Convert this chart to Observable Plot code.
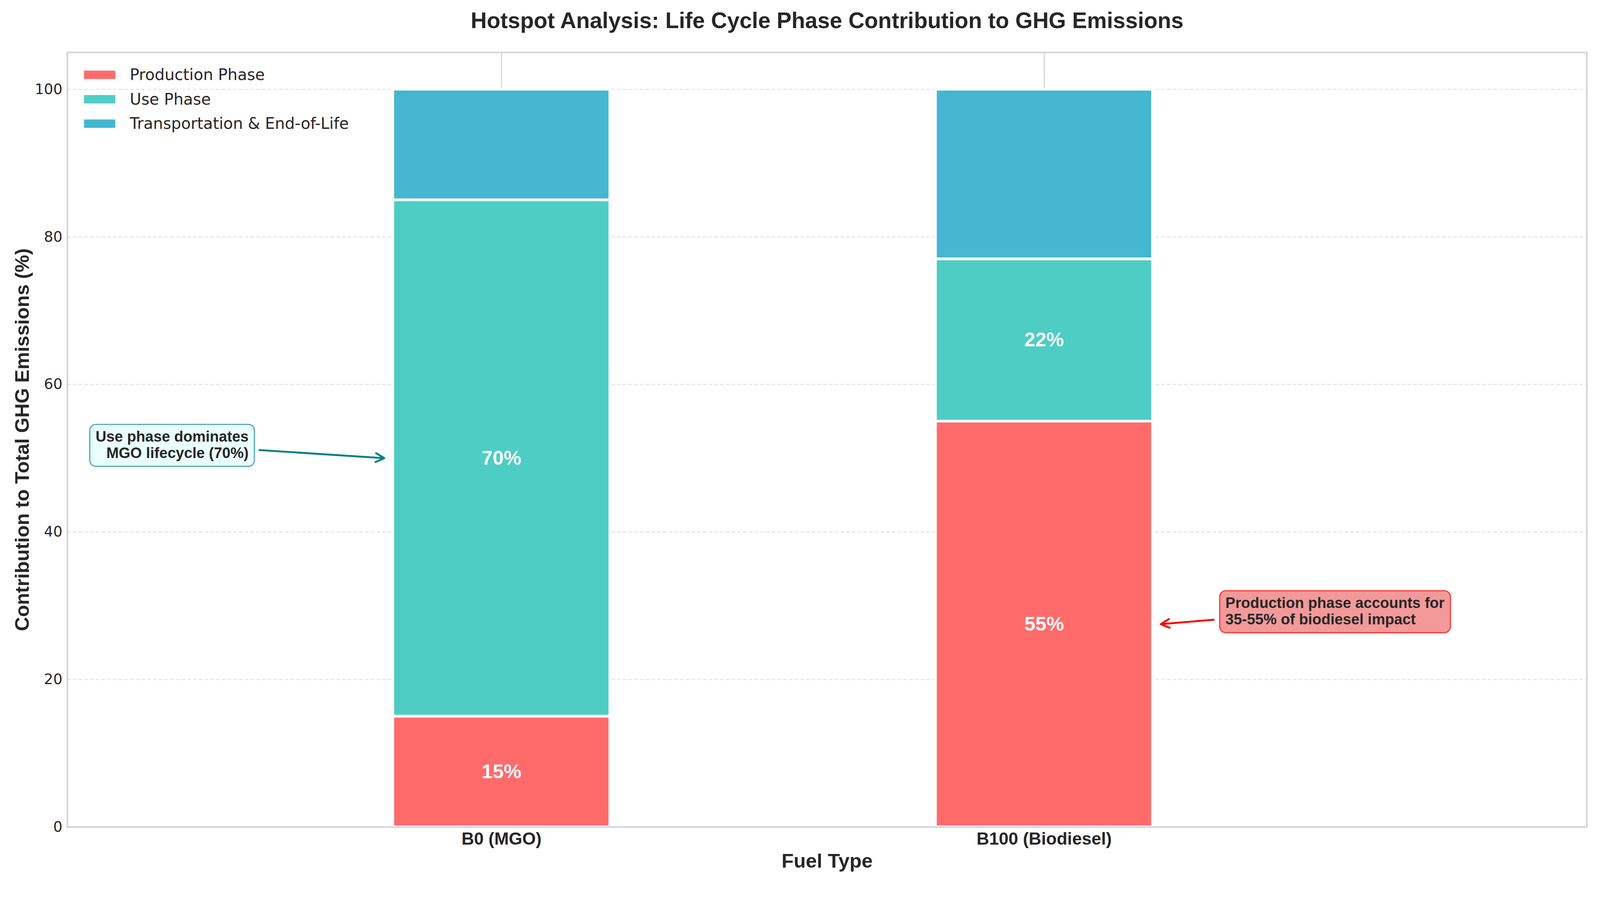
<!DOCTYPE html>
<html>
<head>
<meta charset="utf-8">
<script src="https://cdn.jsdelivr.net/npm/d3@7"></script>
<script src="https://cdn.jsdelivr.net/npm/@observablehq/plot@0.6"></script>
<style>
html, body { margin: 0; padding: 0; background: #fff; overflow: hidden; }
#wrap { position: relative; width: 4190px; height: 2310px; overflow: hidden; transform-origin: 0 0; }
#wrap svg { display: block; }
.legend-row { position: absolute; left: 220px; height: 22px; display: flex; align-items: center;
  font-family: "DejaVu Sans"; font-size: 41px; line-height: 22px; color: #262626; white-space: nowrap; }
.sw { width: 82px; height: 22px; margin-right: 38px; flex: none; }
</style>
</head>
<body>
<div id="wrap"></div>
<script>
// ---- data ----
const fuelTypes = ["B0 (MGO)", "B100 (Biodiesel)"];
const phases = ["Production Phase", "Use Phase", "Transportation & End-of-Life"];
const production = [15, 55];
const usePhase = [70, 22];
const transport = [15, 23];
const phaseColors = ["#FF6B6B", "#4ECDC4", "#45B7D1"];
const yTicks = [0, 20, 40, 60, 80, 100];
const chartTitle = "Hotspot Analysis: Life Cycle Phase Contribution to GHG Emissions";
const xLabel = "Fuel Type";
const yLabel = "Contribution to Total GHG Emissions (%)";
const labeledPhases = ["Production Phase", "Use Phase"];

const seriesValues = [production, usePhase, transport];
const rows = [];
fuelTypes.forEach((f, i) => {
  let acc = 0;
  seriesValues.forEach((vals, j) => {
    const v = vals[i];
    rows.push({fuel: f, idx: i, phase: phases[j], value: v, y1: acc, y2: acc + v});
    acc += v;
  });
});
const seg = (fi, ph) => rows.find(d => d.idx === fi && d.phase === ph);
const mid = d => (d.y1 + d.y2) / 2;

// annotations (text anchor & arrow start in data units; targets from data)
const annotations = [
  {lines: ["Use phase dominates", "MGO lifecycle (70%)"], x: -0.466, y: 51.85, anchor: "end",
   x1: -0.446, y1: 51.1, x2: seg(0, "Use Phase").idx - 0.216, y2: mid(seg(0, "Use Phase")),
   color: "#008080", fill: "#eaffff", edge: "#4da6a6"},
  {lines: ["Production phase accounts for", "35-55% of biodiesel impact"], x: 1.334, y: 29.3, anchor: "start",
   x1: 1.3125, y1: 28.1, x2: seg(1, "Production Phase").idx + 0.215, y2: mid(seg(1, "Production Phase")),
   color: "#ff0000", fill: "#f39999", edge: "#ff3333"}
];

const bold = "Liberation Sans";
const ink = "#262626";

const marks = [
  Plot.gridY({ticks: yTicks, stroke: "#e4e4e4", strokeOpacity: 1, strokeWidth: 2.9, strokeDasharray: "9,6"}),
  Plot.gridX({ticks: fuelTypes.map((_, i) => i), stroke: "#d4d4d4", strokeOpacity: 1, strokeWidth: 2.9}),
  Plot.rect(rows, {x1: d => d.idx - 0.2, x2: d => d.idx + 0.2, y1: "y1", y2: "y2", fill: "phase",
    stroke: "white", strokeWidth: 7}),
  Plot.text(rows.filter(d => labeledPhases.includes(d.phase)), {x: "idx", y: mid, text: d => `${d.value}%`,
    fill: "white", fontSize: 52, fontWeight: "bold", fontFamily: bold}),
  Plot.frame({stroke: "#d6d6d6", strokeWidth: 4.5}),
  Plot.axisY({ticks: yTicks, tickSize: 0, tickPadding: 13, fontSize: 38, label: null, fill: ink, fontFamily: "DejaVu Sans"}),
  Plot.axisX({ticks: fuelTypes.map((_, i) => i), tickFormat: i => fuelTypes[i], tickSize: 0, tickPadding: 14,
    fontSize: 45.5, fontWeight: "bold", fontFamily: bold, label: null, fill: ink}),
  Plot.text([chartTitle], {frameAnchor: "top", dy: -64, lineAnchor: "bottom", text: d => d,
    fontSize: 58.3, fontWeight: "bold", fontFamily: bold, fill: ink}),
  Plot.text([xLabel], {frameAnchor: "bottom", dy: 106, lineAnchor: "bottom", text: d => d,
    fontSize: 52, fontWeight: "bold", fontFamily: bold, fill: ink}),
  Plot.text([yLabel], {frameAnchor: "left", dx: -101, rotate: -90, lineAnchor: "bottom", textAnchor: "middle",
    text: d => d, fontSize: 51.5, fontWeight: "bold", fontFamily: bold, fill: ink})
];
annotations.forEach(a => {
  marks.push(Plot.arrow([a], {x1: "x1", y1: "y1", x2: "x2", y2: "y2", stroke: a.color, strokeWidth: 5,
    headLength: 7.5, headAngle: 55}));
  marks.push(Plot.text([a], {x: "x", y: "y", text: d => d.lines.join("\n"), textAnchor: a.anchor,
    lineAnchor: "middle", lineHeight: 1.1, fontSize: 39, fontWeight: "bold", fontFamily: bold, fill: ink}));
});

const chart = Plot.plot({
  width: 4190, height: 2310,
  marginLeft: 176, marginRight: 35, marginTop: 137, marginBottom: 144,
  x: {type: "linear", domain: [-0.8, 2.0]},
  y: {domain: [0, 105]},
  color: {domain: phases, range: phaseColors},
  style: {fontFamily: "DejaVu Sans", color: ink, background: "#fff", maxWidth: "none"},
  marks
});

const wrap = document.getElementById("wrap");
wrap.appendChild(chart);

// rounded boxes behind annotation text (like matplotlib bbox)
d3.select(chart).selectAll("text").each(function () {
  const t = this.textContent;
  const a = annotations.find(a => a.lines.join("") === t);
  if (!a) return;
  const b = this.getBBox();
  const r = document.createElementNS("http://www.w3.org/2000/svg", "rect");
  const tr = this.getAttribute("transform");
  if (tr) r.setAttribute("transform", tr);
  r.setAttribute("x", b.x - 15);
  r.setAttribute("y", b.y - 10);
  r.setAttribute("width", b.width + 30);
  r.setAttribute("height", b.height + 24);
  r.setAttribute("rx", 16);
  r.setAttribute("ry", 16);
  r.setAttribute("fill", a.fill);
  r.setAttribute("stroke", a.edge);
  r.setAttribute("stroke-width", 3);
  this.parentNode.insertBefore(r, this);
});

// legend (inside plot, top-left)
phases.forEach((p, i) => {
  const row = document.createElement("div");
  row.className = "legend-row";
  row.style.top = (185 + 64 * i) + "px";
  const sw = document.createElement("span");
  sw.className = "sw";
  sw.style.background = phaseColors[i];
  const tx = document.createElement("span");
  tx.textContent = p;
  row.appendChild(sw);
  row.appendChild(tx);
  wrap.appendChild(row);
});

// fit the 4190x2310 drawing to the actual viewport
function fit() {
  const s = Math.min(window.innerWidth / 4190, window.innerHeight / 2310);
  wrap.style.transform = (Math.abs(s - 1) > 0.001) ? `scale(${s})` : "";
}
fit();
window.addEventListener("resize", fit);
</script>
</body>
</html>
